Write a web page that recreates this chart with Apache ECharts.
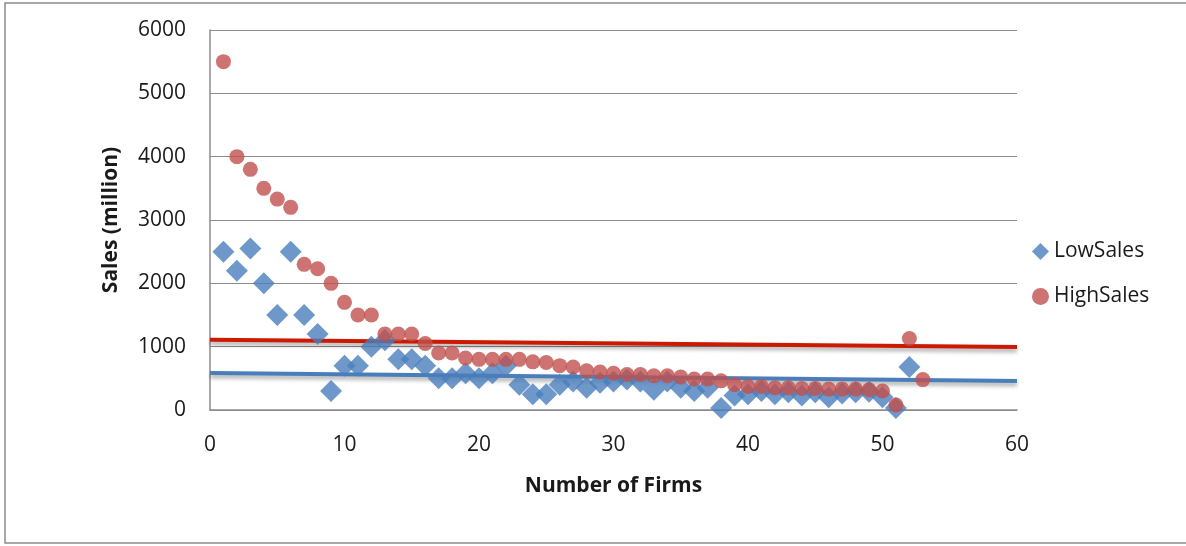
<!DOCTYPE html>
<html><head><meta charset="utf-8">
<script src="https://cdn.jsdelivr.net/npm/echarts@6/dist/echarts.min.js"></script>
<style>html,body{margin:0;padding:0;background:#fff}#c{width:1186px;height:546px}</style>
</head><body><div id="c"></div>
<script>
const firms = [1,2,3,4,5,6,7,8,9,10,11,12,13,14,15,16,17,18,19,20,21,22,23,24,25,26,27,28,29,30,31,32,33,34,35,36,37,38,39,40,41,42,43,44,45,46,47,48,49,50,51,52,53];
const lowSales = [2500,2200,2550,2000,1500,2500,1500,1200,300,700,700,1000,1100,800,800,700,500,500,580,500,580,700,400,250,250,400,450,350,430,450,480,450,320,450,350,300,350,30,230,250,300,250,280,230,280,200,260,280,290,200,30,680];
const highSales = [5500,4000,3800,3500,3330,3200,2300,2230,2000,1700,1500,1500,1200,1200,1200,1050,900,900,820,800,800,800,800,760,750,700,680,620,600,580,560,560,540,540,520,490,490,460,400,370,370,350,350,340,340,330,330,330,320,300,80,1130,480];
const trendX = [0, 60];
const lowTrend = [585, 458];
const highTrend = [1110, 995];
const yTicks = [0,1000,2000,3000,4000,5000,6000];

const font = 'Open Sans';
const pair = (xs, ys) => ys.map((v,i)=>[xs[i], v]);
const chart = echarts.init(document.getElementById('c'));
chart.setOption({
  animation:false,
  backgroundColor:'#fff',
  graphic:[{type:'rect',shape:{x:5,y:3,width:1190,height:540},style:{fill:'none',stroke:'#8c8c8c',lineWidth:1.5},silent:true}],
  grid:{left:210,right:169,top:30,bottom:136},
  xAxis:{type:'value',min:0,max:60,interval:10,
    name:'Number of Firms',nameLocation:'middle',nameGap:66,
    nameTextStyle:{fontFamily:font,fontSize:21,fontWeight:'bold',color:'#1a1a1a'},
    axisLine:{lineStyle:{color:'#8c8c8c',width:1.5}},axisTick:{show:false},
    axisLabel:{fontFamily:font,fontSize:21,color:'#1a1a1a',margin:25},
    splitLine:{show:false}},
  yAxis:{type:'value',min:0,max:6000,interval:1000,
    name:'Sales (million)',nameLocation:'middle',nameGap:88,
    nameTextStyle:{fontFamily:font,fontSize:21,fontWeight:'bold',color:'#1a1a1a'},
    axisLine:{show:true,lineStyle:{color:'#8c8c8c',width:1.5}},axisTick:{show:false},
    axisLabel:{fontFamily:font,fontSize:21,color:'#1a1a1a',margin:24,
      formatter:v=>yTicks.includes(v)?String(v):''},
    splitLine:{lineStyle:{color:'#8c8c8c',width:1.2}}},
  legend:{orient:'vertical',left:1027,top:236,itemGap:24,itemWidth:17,itemHeight:17,
    data:['LowSales','HighSales'],
    textStyle:{fontFamily:font,fontSize:21,color:'#1a1a1a'}},
  series:[
    {name:'LowTrend',type:'line',data:pair(trendX,lowTrend),symbol:'none',z:3,
      lineStyle:{color:'#4a7ebb',width:4,shadowColor:'rgba(0,0,0,0.35)',shadowBlur:4,shadowOffsetY:3}},
    {name:'HighTrend',type:'line',data:pair(trendX,highTrend),symbol:'none',z:3,
      lineStyle:{color:'#cc1a00',width:4,shadowColor:'rgba(0,0,0,0.35)',shadowBlur:4,shadowOffsetY:3}},
    {name:'LowSales',type:'scatter',data:pair(firms,lowSales),symbol:'diamond',symbolSize:22,z:4,
      itemStyle:{color:'#4a7ebb'}},
    {name:'HighSales',type:'scatter',data:pair(firms,highSales),symbol:'circle',symbolSize:15,z:5,
      itemStyle:{color:'#c0504d'}}
  ]
});
</script></body></html>
